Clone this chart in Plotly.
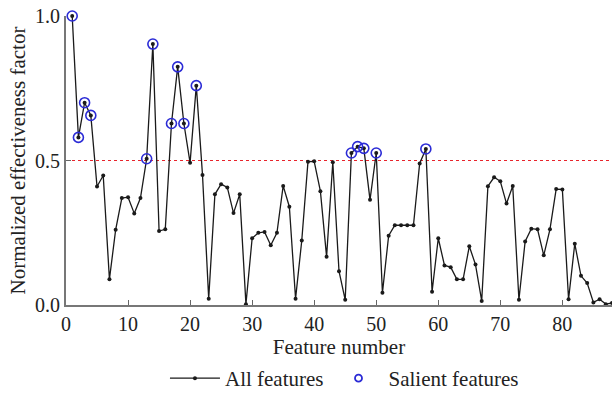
import plotly.graph_objects as go

features = list(range(1, 89))
values = [1.0, 0.58, 0.70, 0.656, 0.41, 0.448, 0.089, 0.26, 0.37, 0.373,
          0.317, 0.37, 0.506, 0.903, 0.256, 0.262, 0.628, 0.824, 0.628, 0.492,
          0.759, 0.45, 0.022, 0.383, 0.418, 0.407, 0.318, 0.383, 0.003, 0.231,
          0.25, 0.253, 0.207, 0.25, 0.412, 0.34, 0.022, 0.223, 0.496, 0.497,
          0.394, 0.167, 0.494, 0.117, 0.018, 0.526, 0.548, 0.542, 0.364, 0.526,
          0.042, 0.24, 0.276, 0.276, 0.276, 0.276, 0.49, 0.54, 0.046, 0.231,
          0.137, 0.131, 0.089, 0.089, 0.203, 0.14, 0.014, 0.411, 0.442, 0.428,
          0.351, 0.412, 0.018, 0.22, 0.264, 0.262, 0.172, 0.262, 0.401, 0.4,
          0.02, 0.212, 0.101, 0.076, 0.009, 0.02, 0.003, 0.007]
salient_idx = [1, 2, 3, 4, 13, 14, 17, 18, 19, 21, 46, 47, 48, 50, 58]
salient_vals = [values[i - 1] for i in salient_idx]
threshold = 0.5
x_ticks = [0, 10, 20, 30, 40, 50, 60, 70, 80]
y_ticks = [0.0, 0.5, 1.0]

font = "Liberation Serif, Times New Roman, serif"
blue = "#2b2bd6"

fig = go.Figure()
fig.add_trace(go.Scatter(
    x=[0, 88], y=[threshold, threshold], mode="lines",
    line=dict(color="#e8242c", width=1.2, dash="dot"),
    showlegend=False, hoverinfo="skip"))
fig.add_trace(go.Scatter(
    x=features, y=values, mode="lines+markers", name="All features",
    line=dict(color="#1a1a1a", width=1.3),
    marker=dict(color="#1a1a1a", size=4), cliponaxis=False))
fig.add_trace(go.Scatter(
    x=salient_idx, y=salient_vals, mode="markers", name="Salient features",
    marker=dict(symbol="circle-open", color=blue, size=10, line=dict(width=1.6)),
    cliponaxis=False, showlegend=False))
# legend entry with the smaller legend symbol
fig.add_trace(go.Scatter(
    x=[None], y=[None], mode="markers", name="Salient features",
    marker=dict(symbol="circle-open", color=blue, size=7, line=dict(width=1.8))))

fig.update_layout(
    width=612, height=399,
    margin=dict(l=66, r=0, t=16, b=82),
    paper_bgcolor="white", plot_bgcolor="white",
    font=dict(family=font, size=20, color="#222"),
    showlegend=True,
    legend=dict(orientation="h", x=0.51, xanchor="center", y=-0.185, yanchor="top",
                font=dict(family=font, size=21, color="#222"), itemwidth=50,
                tracegroupgap=0, bgcolor="rgba(0,0,0,0)"),
    xaxis=dict(range=[0, 88], tickvals=x_ticks, ticks="inside", ticklen=5,
               tickcolor="#666", showline=True, linecolor="#777", linewidth=2,
               showgrid=False, zeroline=False,
               tickfont=dict(family=font, size=20, color="#222"),
               title=dict(text="Feature number", standoff=4,
                          font=dict(family=font, size=21, color="#222"))),
    yaxis=dict(range=[0, 1.0], tickvals=y_ticks, tickformat=".1f", ticks="inside",
               ticklen=5, tickcolor="#666", showline=True, linecolor="#777", linewidth=2,
               showgrid=False, zeroline=False,
               tickfont=dict(family=font, size=20, color="#222"),
               title=dict(text="Normalized effectiveness factor", standoff=4,
                          font=dict(family=font, size=21, color="#222"))),
)

fig.write_html("out.html")
